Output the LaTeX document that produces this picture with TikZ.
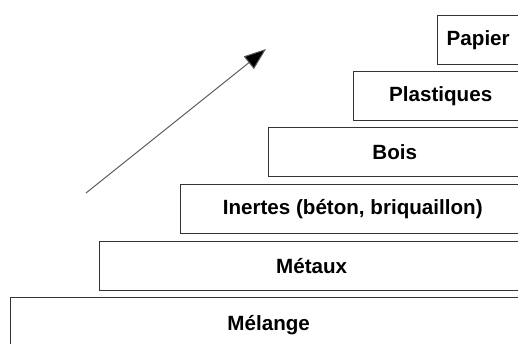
\documentclass[tikz,border=0pt]{standalone}
\usepackage{fontspec}
\setmainfont{Liberation Sans}
\usetikzlibrary{arrows.meta}
\begin{document}
\begin{tikzpicture}[x=1pt,y=-1pt,
  lvl/.style={draw=black!80, line width=1.4pt, fill=white, anchor=north west,
    minimum height=49pt, inner sep=0pt, font=\fontsize{20.6}{23}\selectfont\bfseries},
  trend/.style={draw=black!65, line width=1pt, -{Triangle[length=22pt,width=16pt,fill=black]}}]
\useasboundingbox (0,0) rectangle (518,343);
\clip (0,0) rectangle (518,343);
\node[lvl, minimum width=85pt] (papier) at (437,15) {\hspace*{-4pt}Papier};
\node[lvl, minimum width=174pt] (plast) at (353,71) {Plastiques};
\node[lvl, minimum width=252pt] (bois) at (268,127) {Bois};
\node[lvl, minimum width=344pt] (inertes) at (180,184) {Inertes (béton, briquaillon)};
\node[lvl, minimum width=424pt] (metaux) at (99,241) {Métaux};
\node[lvl, minimum width=516pt, minimum height=55pt] (melange) at (10,297) {\raisebox{3pt}{Mélange}};
\coordinate (a0) at (86,193);
\coordinate (a1) at (266,49);
\draw[trend] (a0) -- (a1);
\end{tikzpicture}
\end{document}
